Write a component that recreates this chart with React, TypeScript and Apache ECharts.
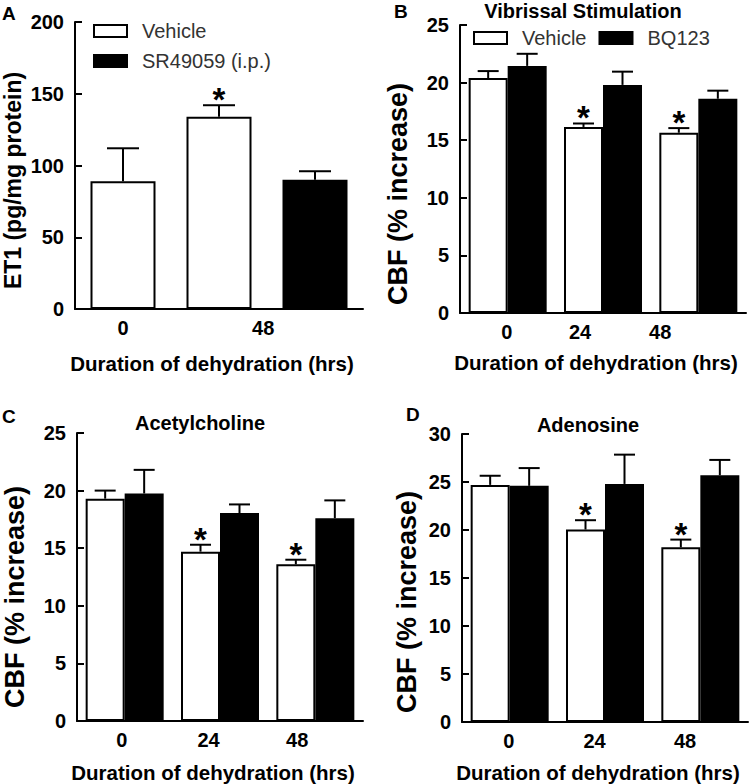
import React, { useEffect, useRef } from 'react';
import * as echarts from 'echarts';

const FONT = '"Liberation Sans", Arial, Helvetica, sans-serif';

// ---------- Panel A : ET1 ----------
const aSlots = ['0 h Vehicle', '48 h Vehicle', '48 h SR49059'];
const aVehicle = [89, 134, null];
const aVehicleErr = [23, 8, null];
const aDrug = [null, null, 90];
const aDrugErr = [null, null, 6];
const aVehicleSig = [false, true, false];
const aDrugSig = [false, false, false];
const aTickLabels = ['0', '48'];
const aTickPos = [0.5, 1.96];

// ---------- Shared ----------
const hours = ['0', '24', '48'];

// ---------- Panel B : Vibrissal Stimulation ----------
const bVehicle = [20.4, 16.15, 15.65];
const bVehicleErr = [0.6, 0.3, 0.4];
const bDrug = [21.45, 19.8, 18.6];
const bDrugErr = [1.05, 1.15, 0.7];
const bSig = [false, true, true];
const bTickPos = [0.49, 1.26, 2.1];

// ---------- Panel C : Acetylcholine ----------
const cVehicle = [19.3, 14.7, 13.6];
const cVehicleErr = [0.7, 0.6, 0.4];
const cDrug = [19.75, 18.05, 17.6];
const cDrugErr = [2.05, 0.75, 1.55];
const cSig = [false, true, true];
const cTickPos = [0.47, 1.38, 2.31];

// ---------- Panel D : Adenosine ----------
const dVehicle = [24.7, 20.05, 18.2];
const dVehicleErr = [0.95, 0.97, 0.8];
const dDrug = [24.6, 24.8, 25.7];
const dDrugErr = [1.85, 3.05, 1.6];
const dSig = [false, true, true];
const dTickPos = [0.49, 1.39, 2.34];

const noSig = [false, false, false];

const whiteStyle = { color: '#ffffff', borderColor: '#000000', borderWidth: 2 };
const blackStyle = { color: '#000000', borderColor: '#000000', borderWidth: 2 };

function errorSeries(gi: number, values: (number | null)[], errs: (number | null)[], sig: boolean[], offset: number, cap: number) {
  const data: number[][] = [];
  values.forEach((v, i) => {
    if (v != null && errs[i] != null) data.push([i, v, errs[i] as number, sig[i] ? 1 : 0]);
  });
  return {
    type: 'custom',
    xAxisIndex: gi * 2,
    yAxisIndex: gi,
    z: 5,
    silent: true,
    data,
    renderItem: (params: any, api: any) => {
      const i = api.value(0);
      const v = api.value(1);
      const e = api.value(2);
      const s = api.value(3);
      const base = api.coord([i, v]);
      const top = api.coord([i, v + e]);
      const x = base[0] + offset;
      const children: any[] = [
        { type: 'line', shape: { x1: x, y1: base[1], x2: x, y2: top[1] }, style: { stroke: '#000', lineWidth: 2 } },
        { type: 'line', shape: { x1: x - cap / 2, y1: top[1], x2: x + cap / 2, y2: top[1] }, style: { stroke: '#000', lineWidth: 2 } },
      ];
      if (s) {
        children.push({
          type: 'text',
          x,
          y: top[1] + 11,
          style: { text: '*', fill: '#000', fontSize: 33, fontWeight: 'bold', fontFamily: FONT, align: 'center', verticalAlign: 'bottom' },
        });
      }
      return { type: 'group', children };
    },
  };
}

function catAxis(gi: number, cats: string[], nameGap: number) {
  return {
    type: 'category',
    gridIndex: gi,
    data: cats,
    position: 'bottom',
    axisLine: { show: true, onZero: false, lineStyle: { color: '#000', width: 2 } },
    axisTick: { show: false },
    axisLabel: { show: false },
    splitLine: { show: false },
    name: 'Duration of dehydration (hrs)',
    nameLocation: 'middle',
    nameGap,
    nameTextStyle: { fontSize: 20.5, fontWeight: 'bold', color: '#000', fontFamily: FONT, padding: [0, 14, 0, 0] },
  };
}

function labelAxis(gi: number, pos: number[], labels: string[], n: number) {
  return {
    type: 'value',
    gridIndex: gi,
    position: 'bottom',
    min: 0,
    max: n,
    axisLine: { show: false },
    axisTick: { show: false },
    splitLine: { show: false },
    axisLabel: {
      customValues: pos,
      margin: 9,
      fontSize: 20,
      fontWeight: 'bold',
      color: '#000',
      fontFamily: FONT,
      formatter: (val: number) => {
        const idx = pos.findIndex((p) => Math.abs(p - val) < 1e-6);
        return idx >= 0 ? labels[idx] : '';
      },
    },
  };
}

function valAxis(gi: number, max: number, interval: number, name: string, nameGap: number, shift: number, nameSize: number) {
  return {
    type: 'value',
    gridIndex: gi,
    min: 0,
    max,
    interval,
    axisLine: { show: true, lineStyle: { color: '#000', width: 2 } },
    axisTick: { show: true, inside: true, length: 7, lineStyle: { color: '#000', width: 2 } },
    axisLabel: { margin: 11, fontSize: 20, fontWeight: 'bold', color: '#000', fontFamily: FONT },
    splitLine: { show: false },
    name,
    nameLocation: 'middle',
    nameGap,
    nameTextStyle: { fontSize: nameSize, fontWeight: 'bold', color: '#000', fontFamily: FONT, padding: [0, shift * 2, 0, 0] },
  };
}

function barPair(gi: number, veh: (number | null)[], drug: (number | null)[], drugName: string) {
  return [
    { type: 'bar', name: 'Vehicle', xAxisIndex: gi * 2, yAxisIndex: gi, data: veh, barWidth: 39, barGap: '0%', itemStyle: whiteStyle },
    { type: 'bar', name: drugName, xAxisIndex: gi * 2, yAxisIndex: gi, data: drug, barWidth: 39, barGap: '0%', itemStyle: blackStyle },
  ];
}

function titleItem(text: string, left: number, top: number, size: number, align: string) {
  return { text, left, top, padding: 0, textAlign: align, textStyle: { fontSize: size, fontWeight: 'bold', color: '#000', fontFamily: FONT } };
}

const legendText = {
  fontSize: 20,
  color: '#333',
  fontFamily: FONT,
  rich: { g: { width: 10, fontSize: 20 }, t: { fontSize: 20, color: '#333', fontFamily: FONT } },
};
const legendFormatter = (n: string) => '{g| }{t|' + n + '}';

export default function App() {
  const ref = useRef<HTMLDivElement>(null);
  useEffect(() => {
    if (!ref.current) return;
    const chart = echarts.init(ref.current, null, { renderer: 'svg' });
    const option: any = {
      animation: false,
      backgroundColor: '#ffffff',
      textStyle: { fontFamily: FONT },
      title: [
        titleItem('A', 2, 4, 19, 'left'),
        titleItem('B', 394, 2, 19, 'left'),
        titleItem('C', 2, 407, 19, 'left'),
        titleItem('D', 406, 405, 19, 'left'),
        titleItem('Vibrissal Stimulation', 583, 1, 20, 'center'),
        titleItem('Acetylcholine', 200, 413, 20, 'center'),
        titleItem('Adenosine', 588, 415, 20, 'center'),
      ],
      legend: [
        {
          orient: 'vertical',
          left: 93,
          top: 21,
          padding: 0,
          itemWidth: 33,
          itemHeight: 12,
          itemGap: 10,
          icon: 'rect',
          data: ['Vehicle', 'SR49059 (i.p.)'],
          formatter: legendFormatter,
          textStyle: legendText,
          selectedMode: false,
        },
        {
          orient: 'horizontal',
          left: 473,
          top: 28,
          padding: 0,
          itemWidth: 33,
          itemHeight: 12,
          itemGap: 12,
          icon: 'rect',
          data: ['Vehicle', 'BQ123'],
          formatter: legendFormatter,
          textStyle: legendText,
          selectedMode: false,
        },
      ],
      grid: [
        { left: 75, top: 22, width: 288, height: 287 },
        { left: 460, top: 25, width: 286, height: 288 },
        { left: 77, top: 433, width: 286, height: 288 },
        { left: 462, top: 434, width: 286, height: 289 },
      ],
      xAxis: [
        catAxis(0, aSlots, 44),
        labelAxis(0, aTickPos, aTickLabels, aSlots.length),
        catAxis(1, hours, 39),
        labelAxis(1, bTickPos, hours, hours.length),
        catAxis(2, hours, 41),
        labelAxis(2, cTickPos, hours, hours.length),
        catAxis(3, hours, 40),
        labelAxis(3, dTickPos, hours, hours.length),
      ],
      yAxis: [
        valAxis(0, 200, 50, 'ET1 (pg/mg protein)', 51, 15, 23),
        valAxis(1, 25, 5, 'CBF (% increase)', 49, 25, 27),
        valAxis(2, 25, 5, 'CBF (% increase)', 49, 20, 27),
        valAxis(3, 30, 5, 'CBF (% increase)', 42, 24, 27),
      ],
      series: [
        { type: 'bar', name: 'Vehicle', xAxisIndex: 0, yAxisIndex: 0, data: aVehicle, barWidth: 65, stack: 'a', itemStyle: whiteStyle },
        { type: 'bar', name: 'SR49059 (i.p.)', xAxisIndex: 0, yAxisIndex: 0, data: aDrug, barWidth: 65, stack: 'a', itemStyle: blackStyle },
        errorSeries(0, aVehicle, aVehicleErr, aVehicleSig, 0, 32),
        errorSeries(0, aDrug, aDrugErr, aDrugSig, 0, 32),
        ...barPair(1, bVehicle, bDrug, 'BQ123'),
        errorSeries(1, bVehicle, bVehicleErr, bSig, -19.5, 21),
        errorSeries(1, bDrug, bDrugErr, noSig, 19.5, 21),
        ...barPair(2, cVehicle, cDrug, 'BQ123'),
        errorSeries(2, cVehicle, cVehicleErr, cSig, -19.5, 21),
        errorSeries(2, cDrug, cDrugErr, noSig, 19.5, 21),
        ...barPair(3, dVehicle, dDrug, 'BQ123'),
        errorSeries(3, dVehicle, dVehicleErr, dSig, -19.5, 21),
        errorSeries(3, dDrug, dDrugErr, noSig, 19.5, 21),
      ],
    };
    chart.setOption(option);
    return () => chart.dispose();
  }, []);
  return <div ref={ref} style={{ position: 'absolute', left: 0, top: 0, width: 751, height: 784 }} />;
}
